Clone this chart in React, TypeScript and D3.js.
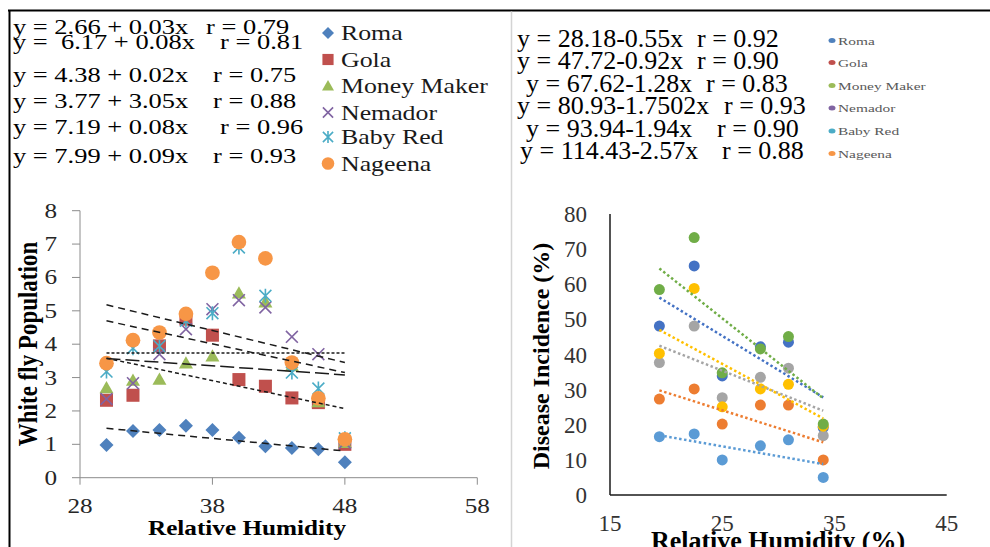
import React from "react";
import * as d3 from "d3";

// ---------- LEFT CHART DATA ----------
const leftX = [30, 32, 34, 36, 38, 40, 42, 44, 46, 48];
const roma = [0.98, 1.4, 1.43, 1.56, 1.43, 1.2, 0.94, 0.89, 0.85, 0.46];
const gola = [2.32, 2.47, 3.95, 4.75, 4.27, 2.94, 2.74, 2.39, 2.25, 1.0];
const moneyMaker = [2.69, 2.91, 2.94, 3.43, 3.64, 5.53, 5.26, 3.35, 2.27, 1.05];
const nemador = [2.36, 2.83, 3.7, 4.45, 5.05, 5.32, 5.1, 4.22, 3.7, 1.05];
const babyRed = [3.18, 3.88, 3.94, 4.7, 4.93, 6.9, 5.45, 3.15, 2.67, 1.18];
const nageena = [3.43, 4.12, 4.35, 4.91, 6.14, 7.06, 6.57, 3.45, 2.38, 1.15];
const seriesNames = ["Roma", "Gola", "Money Maker", "Nemador", "Baby Red", "Nageena"];

// trend lines (left): value at x=30 and x=48
const leftTrendX = [30, 48];
const leftTrendStart = [5.18, 4.7, 3.74, 3.57, 3.58, 1.48];
const leftTrendEnd = [3.45, 3.15, 3.74, 3.08, 2.07, 0.8];

const leftXTicks = [28, 38, 48, 58];
const leftYTicks = [0, 1, 2, 3, 4, 5, 6, 7, 8];
const leftEq = ["y = 2.66 + 0.03x", "y =  6.17 + 0.08x", "y = 4.38 + 0.02x", "y = 3.77 + 3.05x", "y = 7.19 + 0.08x", "y = 7.99 + 0.09x"];
const leftR = ["r = 0.79", "r = 0.81", "r = 0.75", "r = 0.88", "r = 0.96", "r = 0.93"];

// ---------- RIGHT CHART DATA ----------
const rightX = [19.4, 22.5, 25, 28.4, 30.9, 34];
const rBlue = [48.1, 65.2, 33.9, 42.2, 43.5, 19.2];
const rOrange = [27.3, 30.2, 20.2, 25.6, 25.6, 10.0];
const rGray = [37.7, 48.1, 27.7, 33.5, 36.1, 16.9];
const rYellow = [40.3, 58.8, 25.1, 30.2, 31.5, 19.6];
const rLightBlue = [16.6, 17.4, 10.0, 14.0, 15.7, 5.0];
const rGreen = [58.5, 73.3, 34.8, 41.6, 45.1, 20.2];
const rightTrendX = [19.4, 34];
const rightTrendStart = [56.2, 29.8, 42.5, 47.0, 17.0, 64.5];
const rightTrendEnd = [27.8, 15.0, 24.0, 21.8, 8.8, 27.5];
const rightXTicks = [15, 25, 35, 45];
const rightYTicks = [0, 10, 20, 30, 40, 50, 60, 70, 80];
const rightEq = ["y = 28.18-0.55x", "y = 47.72-0.92x", "y = 67.62-1.28x", "y = 80.93-1.7502x", "y = 93.94-1.94x", "y = 114.43-2.57x"];
const rightR = ["r = 0.92", "r = 0.90", "r = 0.83", "r = 0.93", "r = 0.90", "r = 0.88"];

// ---------- STYLES ----------
const FONT = '"Liberation Serif", "Times New Roman", serif';
const legendColors = ["#4F81BD", "#C0504D", "#9BBB59", "#8064A2", "#4BACC6", "#F79646"];
const markerKinds = ["diamond", "square", "triangle", "x", "asterisk", "circle"];
const rightColors = ["#4472C4", "#ED7D31", "#A5A5A5", "#FFC000", "#5B9BD5", "#70AD47"];
const leftDash = ["7 5", "7 5", "3 2", "14 5", "4 3", "7 5"];

function Marker({ kind, x, y, color, s }: { kind: string; x: number; y: number; color: string; s: number }) {
  const h = s / 2;
  if (kind === "diamond") return <path d={`M${x},${y - h}L${x + h},${y}L${x},${y + h}L${x - h},${y}Z`} fill={color} />;
  if (kind === "square") return <rect x={x - h * 0.93} y={y - h * 0.93} width={s * 0.93} height={s * 0.93} fill={color} />;
  if (kind === "triangle") return <path d={`M${x},${y - h}L${x + h},${y + h * 0.75}L${x - h},${y + h * 0.75}Z`} fill={color} />;
  if (kind === "circle") return <circle cx={x} cy={y} r={h * 1.05} fill={color} />;
  const k = h * 0.85;
  if (kind === "x")
    return <path d={`M${x - k},${y - k}L${x + k},${y + k}M${x - k},${y + k}L${x + k},${y - k}`} stroke={color} strokeWidth={1.6} fill="none" />;
  return (
    <path
      d={`M${x - k},${y - k}L${x + k},${y + k}M${x - k},${y + k}L${x + k},${y - k}M${x},${y - h}L${x},${y + h}`}
      stroke={color}
      strokeWidth={1.6}
      fill="none"
    />
  );
}

function T({ x, y, sx = 1, size, children, anchor = "start", weight = "normal", fill = "#000", rot = 0 }: any) {
  return (
    <text
      transform={`translate(${x},${y}) scale(${sx},1)${rot ? ` rotate(${rot})` : ""}`}
      fontFamily={FONT}
      fontSize={size}
      fontWeight={weight}
      textAnchor={anchor}
      fill={fill}
      style={{ whiteSpace: "pre" }}
    >
      {children}
    </text>
  );
}

export default function App() {
  const W = 990, H = 547;
  // left scales
  const lx = d3.scaleLinear().domain([28, 58]).range([80, 477.3]);
  const ly = d3.scaleLinear().domain([0, 8]).range([477.7, 210.7]);
  // right scales
  const rx = d3.scaleLinear().domain([15, 45]).range([610, 946.7]);
  const ry = d3.scaleLinear().domain([0, 80]).range([495, 214]);

  const leftSeries = [roma, gola, moneyMaker, nemador, babyRed, nageena];
  const rightSeries = [rBlue, rOrange, rGray, rYellow, rLightBlue, rGreen];

  const lLine = d3.line<[number, number]>().x((d) => lx(d[0])).y((d) => ly(d[1]));
  const rLine = d3.line<[number, number]>().x((d) => rx(d[0])).y((d) => ry(d[1]));

  const axisGray = "#8c8c8c";
  const leftEqBase = [34, 48.5, 81.5, 108, 133.5, 163];
  const leftRX = [206, 220, 213, 213, 220, 213];
  const leftLegendY = [33, 59.5, 86, 112.5, 137, 163.5];
  const rightEqBase = [46.5, 69, 91.5, 114, 136.5, 159];
  const rightEqX = [517, 517, 526, 517, 526, 520];
  const rightRX = [697, 697, 706, 724, 717, 722];
  const rightLegendY = [40.5, 62.5, 85.5, 108, 131, 153.5];

  return (
    <svg width={W} height={H} style={{ position: "absolute", left: 0, top: 0, background: "#fff" }}>
      <rect x={0} y={0} width={W} height={H} fill="#fff" />
      {/* frame lines */}
      <line x1={8} y1={10.5} x2={W} y2={10.5} stroke="#000" strokeWidth={2} />
      <line x1={9.5} y1={10} x2={9.5} y2={H} stroke="#000" strokeWidth={2} />
      <line x1={511.5} y1={11.5} x2={511.5} y2={H} stroke="#d4d4d4" strokeWidth={1.5} />

      {/* ===== LEFT: equations ===== */}
      {leftEq.map((e, i) => (
        <T key={"le" + i} x={13} y={leftEqBase[i]} sx={1.26} size={21}>{e}</T>
      ))}
      {leftR.map((e, i) => (
        <T key={"lr" + i} x={leftRX[i]} y={leftEqBase[i]} sx={1.26} size={21}>{e}</T>
      ))}
      {/* left legend */}
      {seriesNames.map((n, i) => (
        <g key={"ll" + i}>
          <Marker kind={markerKinds[i]} x={328} y={leftLegendY[i]} color={legendColors[i]} s={12} />
          <T x={341} y={leftLegendY[i] + 7} sx={1.23} size={21} fill="#1a1a1a">{n}</T>
        </g>
      ))}

      {/* left axes */}
      <line x1={lx(28)} y1={ly(8)} x2={lx(28)} y2={ly(0)} stroke={axisGray} strokeWidth={1} />
      <line x1={lx(28)} y1={ly(0)} x2={lx(58)} y2={ly(0)} stroke={axisGray} strokeWidth={1} />
      {leftYTicks.map((t) => (
        <g key={"lyt" + t}>
          <line x1={lx(28) - 8} x2={lx(28)} y1={ly(t)} y2={ly(t)} stroke={axisGray} />
          <T x={57} y={ly(t) + 7} sx={1.2} size={21} anchor="end" fill="#262626">{String(t)}</T>
        </g>
      ))}
      {leftXTicks.map((t) => (
        <g key={"lxt" + t}>
          <line x1={lx(t)} x2={lx(t)} y1={ly(0)} y2={ly(0) + 7} stroke={axisGray} />
          <T x={lx(t)} y={513} sx={1.2} size={21} anchor="middle" fill="#262626">{String(t)}</T>
        </g>
      ))}
      <T x={247} y={535} sx={1.2} size={21} anchor="middle" weight="bold">Relative Humidity</T>
      <T x={37} y={344} sx={1.2} size={23} anchor="middle" weight="bold" rot={-90}>White fly Population</T>

      {/* left points */}
      {leftSeries.map((s, i) => (
        <g key={"ls" + i}>
          {s.map((v, j) => (
            <Marker key={j} kind={markerKinds[i]} x={lx(leftX[j])} y={ly(v)} color={legendColors[i]} s={14} />
          ))}
        </g>
      ))}
      {/* left trend lines */}
      {leftTrendStart.map((v, i) => (
        <path
          key={"lt" + i}
          d={lLine([[leftTrendX[0], v], [leftTrendX[1], leftTrendEnd[i]]]) || ""}
          stroke="#1a1a1a"
          strokeWidth={1.5}
          strokeDasharray={leftDash[i]}
          fill="none"
        />
      ))}

      {/* ===== RIGHT: equations ===== */}
      {rightEq.map((e, i) => (
        <T key={"re" + i} x={rightEqX[i]} y={rightEqBase[i]} sx={1.04} size={25}>{e}</T>
      ))}
      {rightR.map((e, i) => (
        <T key={"rr" + i} x={rightRX[i]} y={rightEqBase[i]} sx={1.04} size={25}>{e}</T>
      ))}
      {seriesNames.map((n, i) => (
        <g key={"rl" + i}>
          <ellipse cx={832} cy={rightLegendY[i]} rx={3.5} ry={2.5} fill={legendColors[i]} />
          <T x={838} y={rightLegendY[i] + 4} sx={1.4} size={11} fill="#595959">{n}</T>
        </g>
      ))}

      {/* right axes */}
      <line x1={rx(15)} y1={ry(80)} x2={rx(15)} y2={ry(0)} stroke="#1a1a1a" strokeWidth={1.5} />
      <line x1={rx(15)} y1={ry(0)} x2={rx(45)} y2={ry(0)} stroke="#1a1a1a" strokeWidth={1.5} />
      {rightYTicks.map((t) => (
        <T key={"ryt" + t} x={587} y={ry(t) + 8} size={23} anchor="end" fill="#333">{String(t)}</T>
      ))}
      {rightXTicks.map((t) => (
        <T key={"rxt" + t} x={rx(t)} y={531} size={23} anchor="middle" fill="#333">{String(t)}</T>
      ))}
      <T x={549} y={356} size={24} anchor="middle" weight="bold" rot={-90}>Disease Incidence (%)</T>
      <T x={778} y={549} size={26} anchor="middle" weight="bold">Relative Humidity (%)</T>

      {/* right points */}
      {rightSeries.map((s, i) => (
        <g key={"rs" + i}>
          {s.map((v, j) => (
            <circle key={j} cx={rx(rightX[j])} cy={ry(v)} r={5.5} fill={rightColors[i]} />
          ))}
        </g>
      ))}
      {/* right trend lines */}
      {rightTrendStart.map((v, i) => (
        <path
          key={"rt" + i}
          d={rLine([[rightTrendX[0], v], [rightTrendX[1], rightTrendEnd[i]]]) || ""}
          stroke={rightColors[i]}
          strokeWidth={2.5}
          strokeDasharray="2.5 2.5"
          fill="none"
        />
      ))}
    </svg>
  );
}
